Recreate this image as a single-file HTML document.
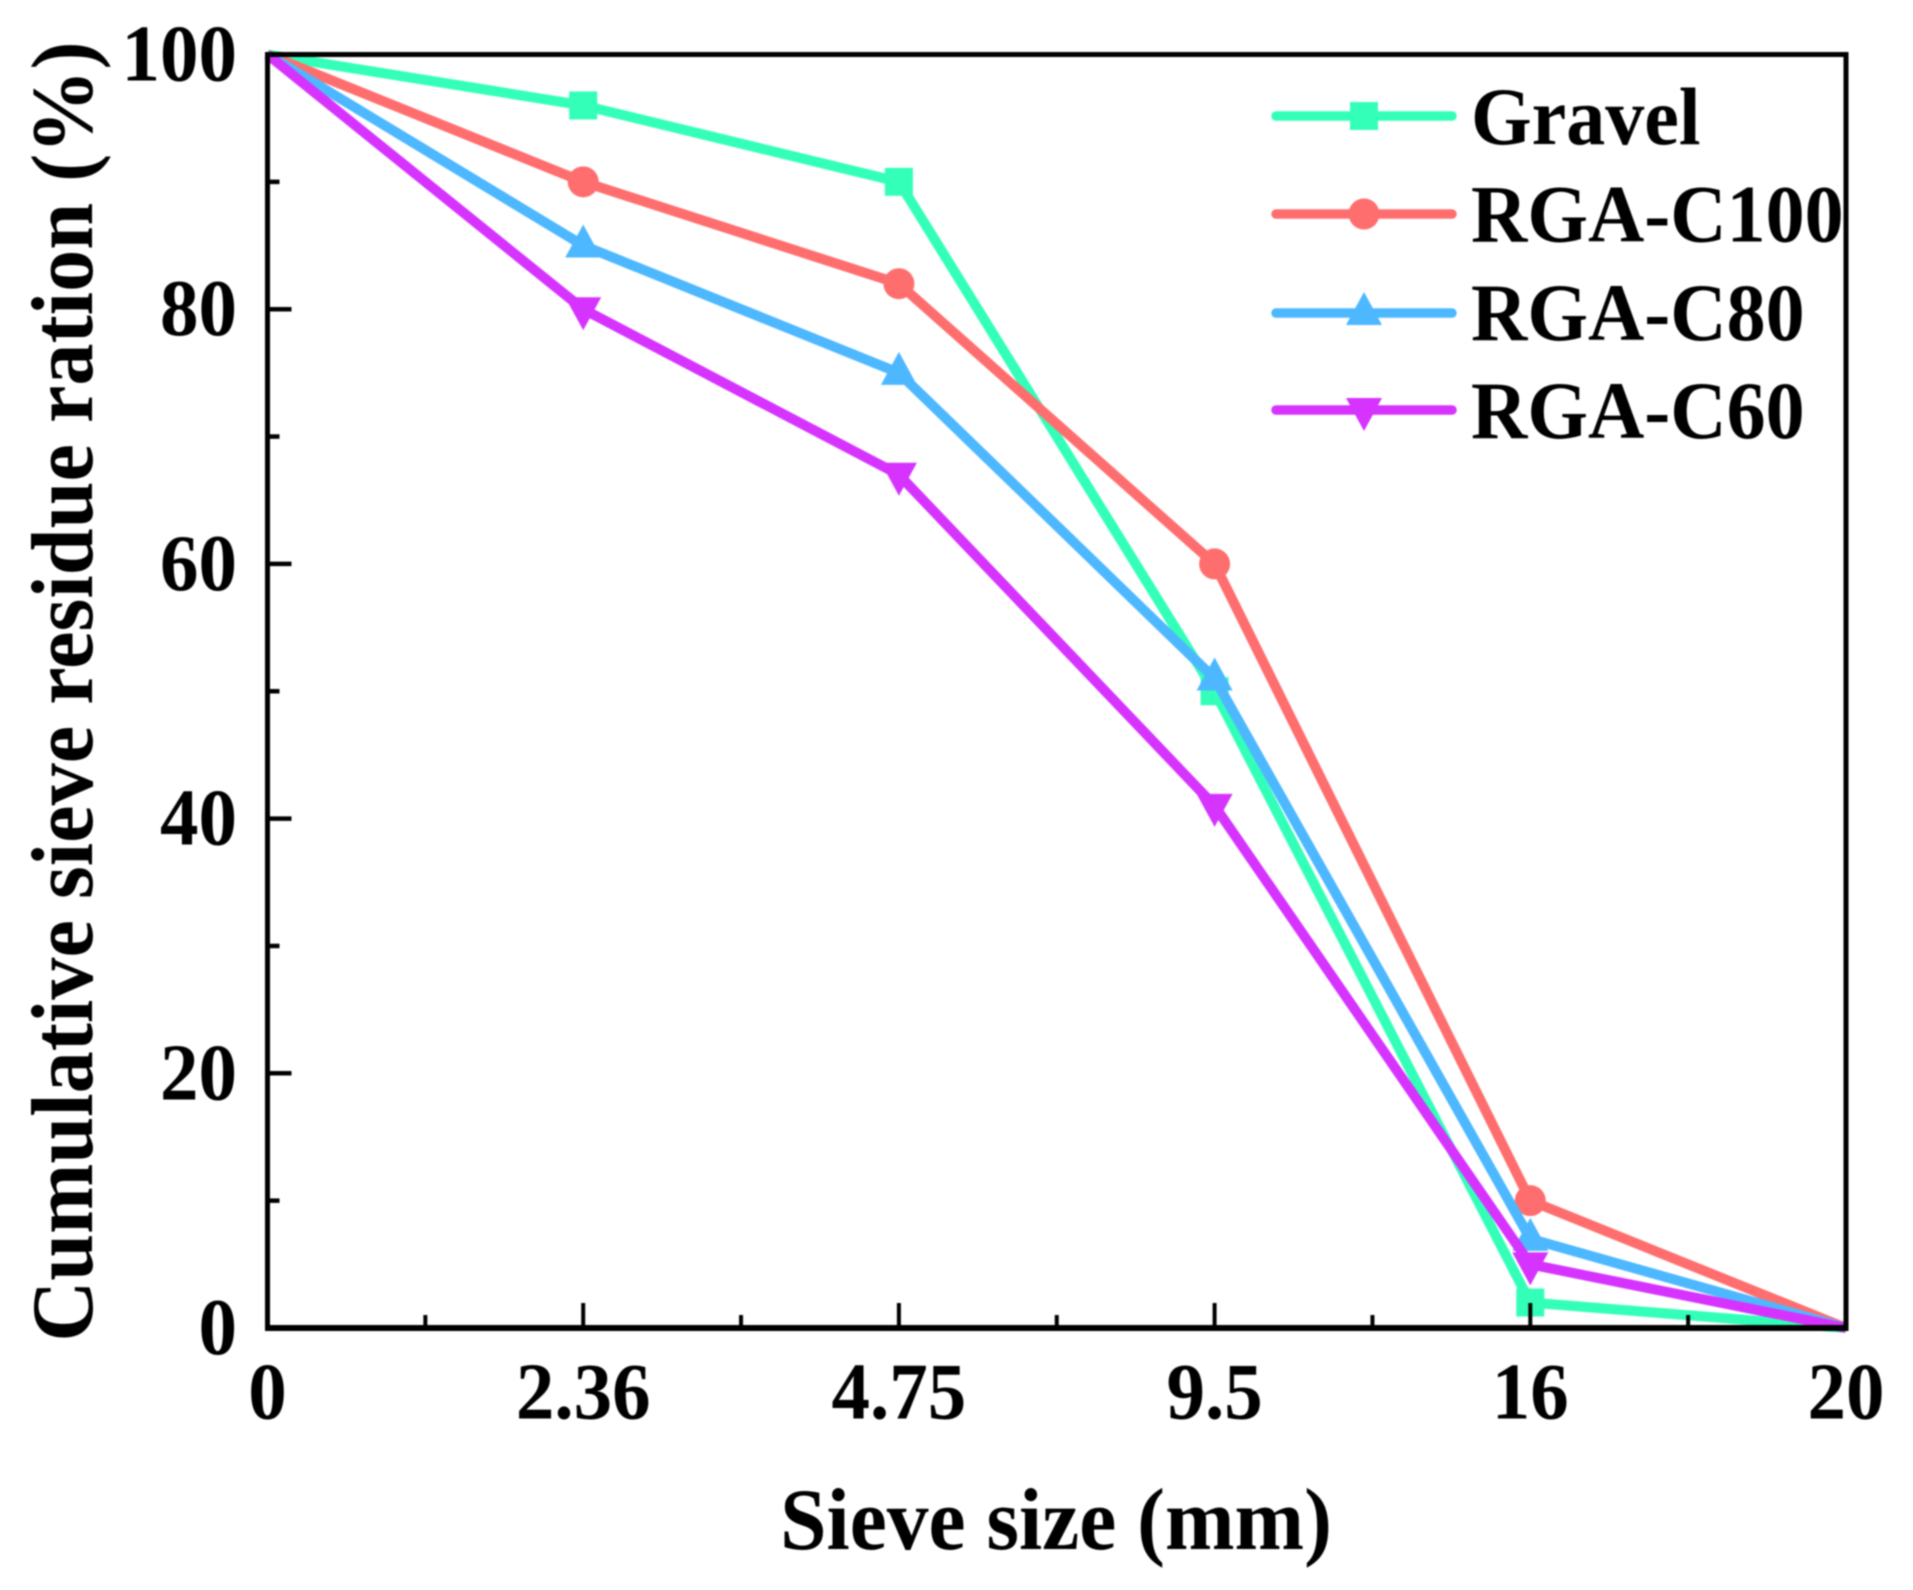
<!DOCTYPE html>
<html>
<head>
<meta charset="utf-8">
<style>
html,body{margin:0;padding:0;background:#fff;}
svg{display:block;filter:blur(0.7px);}
text{font-family:"Liberation Serif",serif;font-weight:bold;fill:#000;}
</style>
</head>
<body>
<svg id="chart" xmlns="http://www.w3.org/2000/svg" width="1913" height="1590" viewBox="0 0 1913 1590">
<text transform="translate(1056 1549) scale(1 1.05)" font-size="83.5" text-anchor="middle">Sieve size (mm)</text>
<text transform="translate(92 691.5) rotate(-90) scale(1 1.04)" font-size="84.3" text-anchor="middle">Cumulative sieve residue ration (%)</text>
</svg>
<script>
const xLabels = ['0', '2.36', '4.75', '9.5', '16', '20'];
const yTicks = [0, 20, 40, 60, 80, 100];
const yMinorTicks = [10, 30, 50, 70, 90];
const seriesNames = ['Gravel', 'RGA-C100', 'RGA-C80', 'RGA-C60'];
const gravel = [100, 96, 90, 50, 2, 0];
const rgaC100 = [100, 90, 82, 60, 10, 0];
const rgaC80 = [100, 85, 75, 51, 7, 0];
const rgaC60 = [100, 80, 67, 41, 5, 0];
const seriesValues = [gravel, rgaC100, rgaC80, rgaC60];

const colors = ['#33ffb8', '#ff6e6e', '#4db8ff', '#d633ff'];
const markerKinds = ['square', 'circle', 'up', 'down'];
const plot = {left: 267.5, right: 1846, top: 54.5, bottom: 1328};
const NS = 'http://www.w3.org/2000/svg';
const svg = document.getElementById('chart');

function xPos(i) { return plot.left + (plot.right - plot.left) * i / (xLabels.length - 1); }
function yPos(v) { return plot.bottom - (plot.bottom - plot.top) * v / 100; }

function make(tag, attrs, parent) {
  const el = document.createElementNS(NS, tag);
  for (const k in attrs) el.setAttribute(k, attrs[k]);
  (parent || svg).appendChild(el);
  return el;
}

function drawMarker(kind, cx, cy, color, parent) {
  let el;
  if (kind === 'square') {
    el = make('rect', {x: cx - 14, y: cy - 14, width: 28, height: 28, fill: color}, parent);
  } else if (kind === 'circle') {
    el = make('circle', {cx: cx, cy: cy, r: 15.5, fill: color}, parent);
  } else if (kind === 'up') {
    el = make('polygon', {points: (cx - 18) + ',' + (cy + 12) + ' ' + (cx + 18) + ',' + (cy + 12) + ' ' + cx + ',' + (cy - 21), fill: color}, parent);
  } else {
    el = make('polygon', {points: (cx - 18) + ',' + (cy - 12) + ' ' + (cx + 18) + ',' + (cy - 12) + ' ' + cx + ',' + (cy + 21), fill: color}, parent);
  }
  return el;
}

const seriesLayer = make('g', {});



seriesValues.forEach(function (vals, s) {
  const g = make('g', {}, seriesLayer);
  
  
  const pts = vals.map(function (v, i) { return xPos(i) + ',' + yPos(v); }).join(' ');
  const line = make('polyline', {points: pts, fill: 'none', stroke: colors[s], 'stroke-width': 10, 'stroke-linejoin': 'round'}, g);
  
  
  vals.forEach(function (v, i) {
    if (i === 0 || i === vals.length - 1) return;
    const m = drawMarker(markerKinds[s], xPos(i), yPos(v), colors[s], g);
    
    
  });
});

const axes = make('g', {});



const frame = make('path', {
  d: 'M' + plot.left + ' ' + plot.bottom + 'V' + plot.top + 'H' + plot.right + 'V' + plot.bottom,
  fill: 'none', stroke: '#000', 'stroke-width': 5
}, axes);



const bottomLine = make('line', {x1: plot.left - 2.5, x2: plot.right + 2.5, y1: plot.bottom, y2: plot.bottom, stroke: '#000', 'stroke-width': 6}, axes);



xLabels.forEach(function (label, i) {
  const x = xPos(i);
  if (i > 0 && i < xLabels.length - 1) {
    const tick = make('line', {x1: x, x2: x, y1: plot.bottom, y2: plot.bottom - 25, stroke: '#000', 'stroke-width': 4}, axes);
    
    
  }
  if (i < xLabels.length - 1) {
    const mx = xPos(i + 0.5);
    const minor = make('line', {x1: mx, x2: mx, y1: plot.bottom, y2: plot.bottom - 13, stroke: '#000', 'stroke-width': 4}, axes);
    
    
  }
  const t = make('text', {transform: 'translate(' + x + ' 1418.5) scale(1 1.04)', 'font-size': 77, 'text-anchor': 'middle'});
  t.textContent = label;
  
  
});

yTicks.forEach(function (v) {
  const y = yPos(v);
  if (v > 0 && v < 100) {
    const tick = make('line', {x1: plot.left, x2: plot.left + 24, y1: y, y2: y, stroke: '#000', 'stroke-width': 4.5}, axes);
    
    
  }
  const t = make('text', {transform: 'translate(237 ' + (y + 26) + ') scale(1 1.04)', 'font-size': 77, 'text-anchor': 'end'});
  t.textContent = String(v);
  
  
});

yMinorTicks.forEach(function (v) {
  const y = yPos(v);
  const tick = make('line', {x1: plot.left, x2: plot.left + 12, y1: y, y2: y, stroke: '#000', 'stroke-width': 4.5}, axes);
  
  
});

const legend = make('g', {});



const legendLineY = [116, 214, 313, 410];
const legendTextY = [144, 241.5, 340, 438];
seriesNames.forEach(function (name, s) {
  const g = make('g', {}, legend);
  
  
  const l = make('line', {x1: 1276, x2: 1452, y1: legendLineY[s], y2: legendLineY[s], stroke: colors[s], 'stroke-width': 9.5, 'stroke-linecap': 'round'}, g);
  
  
  const m = drawMarker(markerKinds[s], 1364, legendLineY[s], colors[s], g);
  
  
  const t = make('text', {transform: 'translate(1471 ' + legendTextY[s] + ') scale(1 1.04)', 'font-size': 78}, g);
  t.textContent = name;
  
  
});
</script>
</body>
</html>
